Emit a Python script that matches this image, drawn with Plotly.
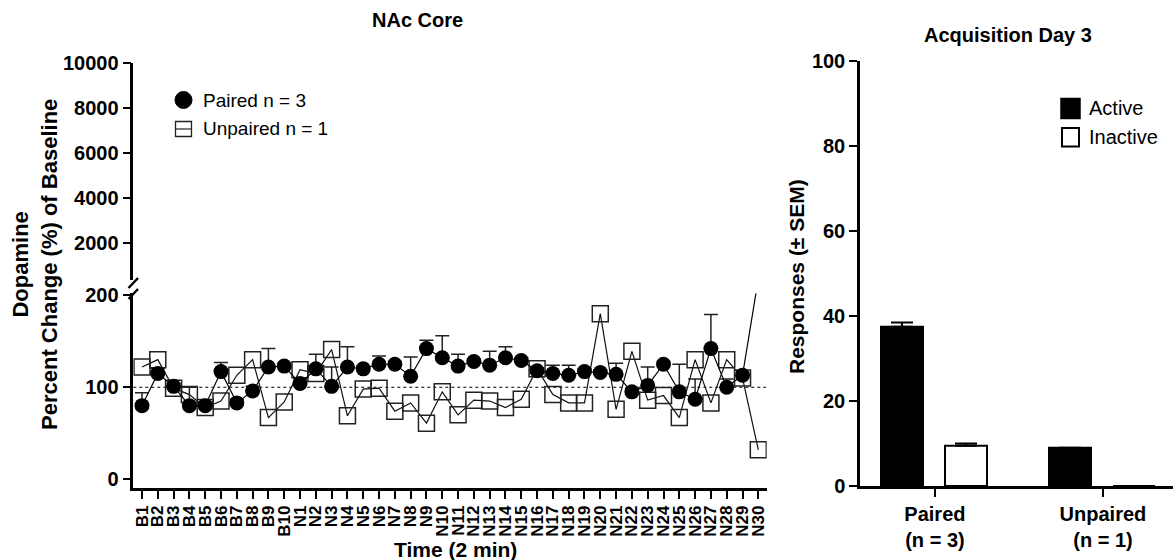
import plotly.graph_objects as go

W, H = 1173, 560
FONT = "Liberation Sans, Arial, sans-serif"

# ---------------- data ----------------
time_bins = [f"B{i}" for i in range(1, 11)] + [f"N{i}" for i in range(1, 31)]

paired_mean = [80, 115, 101, 80, 80, 117, 83, 96, 122, 123,
               104, 120, 101, 122, 120, 125, 125, 112, 142, 132,
               123, 128, 124, 132, 129, 118, 115, 113, 117, 116,
               114, 95, 102, 125, 95, 87, 142, 100, 113, 218]
paired_sem = [14, 5, 3, 20, 4, 10, 4, 5, 20, 3,
              5, 16, 21, 22, 3, 9, 3, 21, 9, 24,
              13, 3, 15, 12, 3, 3, 9, 11, 3, 3,
              12, 3, 20, 3, 30, 22, 37, 9, 3, 20]
unpaired = [122, 130, 99, 92, 78, 85, 113, 130, 67, 84,
            119, 115, 141, 69, 98, 99, 74, 83, 61, 95,
            70, 86, 85, 78, 87, 120, 92, 83, 83, 180,
            76, 139, 86, 91, 67, 130, 83, 130, 110, 32]

groups = ["Paired<br>(n = 3)", "Unpaired<br>(n = 1)"]
active = [37.5, 9]
active_sem = [1.0, None]
inactive = [9.5, 0]
inactive_sem = [0.5, None]

lower_ticks = [0, 100, 200]
upper_ticks = [2000, 4000, 6000, 8000, 10000]
resp_ticks = [0, 20, 40, 60, 80, 100]

# ---------------- helpers ----------------
def px(x):
    return x / W

def py(y):
    return 1 - y / H

fig = go.Figure()

# upper segment of the broken axis (all values lie below its range -> only lines, clipped)
for series in (unpaired, paired_mean):
    fig.add_trace(go.Scatter(
        x=time_bins, y=series, mode="lines", xaxis="x", yaxis="y2",
        line=dict(color="#000", width=1.2), showlegend=False, hoverinfo="skip"))

# lower segment
fig.add_trace(go.Scatter(
    x=time_bins, y=unpaired, mode="lines+markers", name="Unpaired n = 1",
    xaxis="x", yaxis="y",
    line=dict(color="#111", width=1.2),
    marker=dict(symbol="square-open", size=16, color="#222", line=dict(width=1.5)),
    showlegend=False, cliponaxis=True))
fig.add_trace(go.Scatter(
    x=time_bins, y=paired_mean, mode="lines+markers", name="Paired n = 3",
    xaxis="x", yaxis="y",
    line=dict(color="#000", width=1.2),
    marker=dict(symbol="circle", size=15, color="#000"),
    error_y=dict(type="data", symmetric=False, array=paired_sem,
                 arrayminus=[0] * len(paired_sem), width=7, thickness=1.5, color="#222"),
    showlegend=False, cliponaxis=True))

fig.add_trace(go.Bar(
    x=groups, y=active, name="Active", xaxis="x2", yaxis="y3",
    width=0.25, offset=-0.321,
    marker=dict(color="#000", line=dict(color="#000", width=2)),
    error_y=dict(type="data", symmetric=False, array=active_sem, arrayminus=[0, 0],
                 width=11, thickness=2, color="#000"),
    showlegend=False))

fig.add_trace(go.Bar(
    x=groups, y=inactive, name="Inactive", xaxis="x2", yaxis="y3",
    width=0.25, offset=0.06,
    marker=dict(color="#fff", line=dict(color="#000", width=2)),
    error_y=dict(type="data", symmetric=False, array=inactive_sem, arrayminus=[0, 0],
                 width=11, thickness=2, color="#000"),
    showlegend=False))

tickfont = dict(family=FONT, size=20, color="#000", weight="bold")

axis_common = dict(showline=True, linecolor="#000", linewidth=2.5, ticks="outside",
                   ticklen=8, tickwidth=2, tickcolor="#000", showgrid=False,
                   zeroline=False, automargin=False)

fig.update_layout(
    width=W, height=H, autosize=False,
    margin=dict(l=0, r=0, t=0, b=0),
    paper_bgcolor="#fff", plot_bgcolor="rgba(0,0,0,0)",
    barmode="overlay",
    font=dict(family=FONT, color="#000"),
    xaxis=dict(domain=[px(133.3), px(766.7)], anchor="y", type="category",
               range=[-0.55, 39.53], tickangle=-90,
               tickmode="array", tickvals=time_bins, ticktext=time_bins,
               tickfont=dict(family=FONT, size=17, color="#000", weight="bold"),
               **axis_common),
    yaxis=dict(domain=[py(488), py(293.4)], anchor="x", range=[-9.5, 202],
               tickvals=lower_ticks, tickfont=tickfont, **axis_common),
    yaxis2=dict(domain=[py(280), py(63)], anchor="x", range=[369, 10000],
                tickvals=upper_ticks, tickformat="d", tickfont=tickfont, **axis_common),
    xaxis2=dict(domain=[px(860), 1.0], anchor="y3", type="category",
                range=[-0.446, 1.417], tickfont=tickfont, **axis_common),
    yaxis3=dict(domain=[py(486), py(61)], anchor="x2", range=[0, 100],
                tickvals=resp_ticks, tickfont=tickfont, **axis_common),
)

shapes = []
# dotted baseline at 100 %
shapes.append(dict(type="line", xref="paper", yref="y", x0=px(133.3), x1=px(766),
                   y0=100, y1=100, line=dict(color="#000", width=1, dash="dot"),
                   layer="below"))
# axis break marks
for yc in (283, 294):
    shapes.append(dict(type="line", xref="paper", yref="paper",
                       x0=px(128.5), x1=px(138), y0=py(yc + 5), y1=py(yc - 5),
                       line=dict(color="#000", width=2.5)))
# left legend symbols
shapes.append(dict(type="circle", xref="paper", yref="paper",
                   x0=px(175), x1=px(192), y0=py(108.5), y1=py(91.5),
                   fillcolor="#000", line=dict(color="#000", width=1)))
shapes.append(dict(type="rect", xref="paper", yref="paper",
                   x0=px(175.5), x1=px(191.5), y0=py(136.5), y1=py(121.5),
                   fillcolor="rgba(0,0,0,0)", line=dict(color="#222", width=1.3)))
shapes.append(dict(type="line", xref="paper", yref="paper",
                   x0=px(175.5), x1=px(191.5), y0=py(129), y1=py(129),
                   line=dict(color="#222", width=1.2)))
# right legend symbols
shapes.append(dict(type="rect", xref="paper", yref="paper",
                   x0=px(1061), x1=px(1080), y0=py(118.5), y1=py(98.5),
                   fillcolor="#000", line=dict(color="#000", width=1.5)))
shapes.append(dict(type="rect", xref="paper", yref="paper",
                   x0=px(1062), x1=px(1079), y0=py(146.5), y1=py(128),
                   fillcolor="#fff", line=dict(color="#000", width=2)))
fig.update_layout(shapes=shapes)

def ann(text, x, y, size, angle=0, xanchor="center", bold=True):
    return dict(text=f"<b>{text}</b>" if bold else text, xref="paper", yref="paper",
                x=px(x), y=py(y), xanchor=xanchor, yanchor="middle",
                showarrow=False, textangle=angle,
                font=dict(family=FONT, size=size, color="#000"))

fig.update_layout(annotations=[
    ann("NAc Core", 417, 20, 20),
    ann("Acquisition Day 3", 1008, 35, 20),
    ann("Time (2 min)", 455, 549, 21),
    ann("<b>Dopamine</b><br><b>Percent Change (%) of Baseline</b>", 35, 265, 22, angle=-90, bold=False),
    ann("Responses (± SEM)", 796, 277, 21, angle=-90),
    ann("Paired n = 3", 201, 100, 19, xanchor="left", bold=False),
    ann("Unpaired n = 1", 201, 129, 19, xanchor="left", bold=False),
    ann("Active", 1087, 108, 20, xanchor="left", bold=False),
    ann("Inactive", 1087, 137, 20, xanchor="left", bold=False),
])

fig.write_html("out.html")
